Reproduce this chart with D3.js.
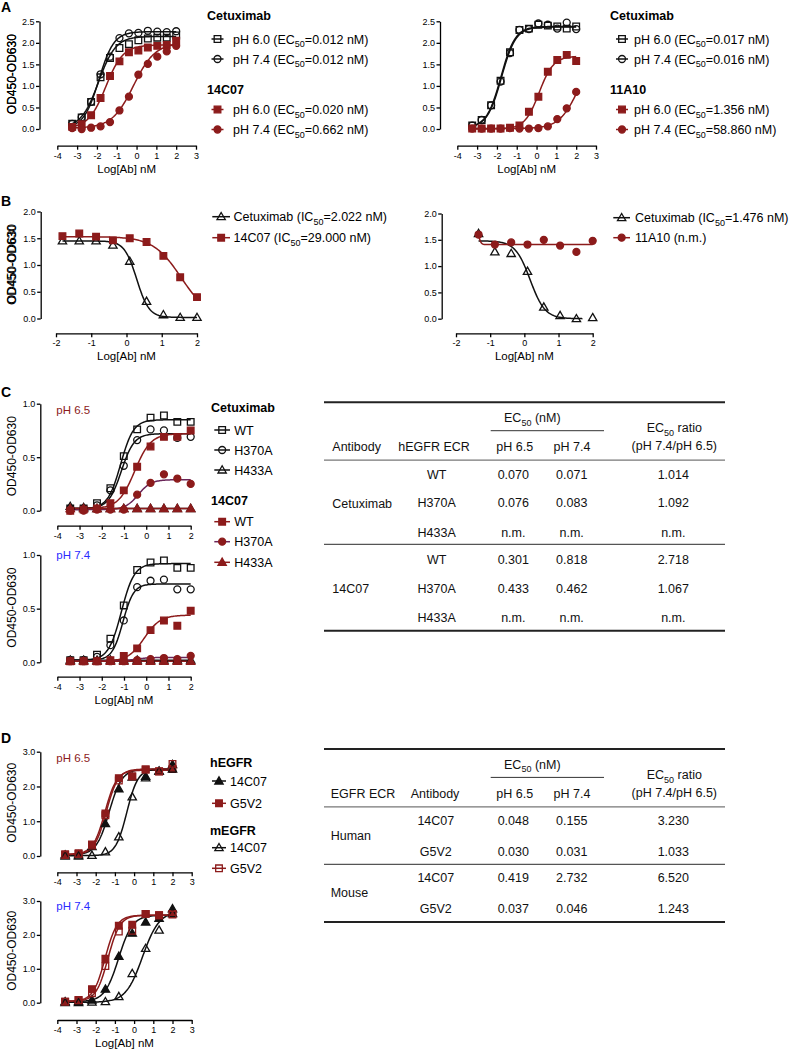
<!DOCTYPE html>
<html><head><meta charset="utf-8">
<script src="https://cdn.jsdelivr.net/npm/d3@7"></script>
<style>body{margin:0;background:#fff} svg{display:block}</style>
</head><body>
<script>
// ---------------- DATA ----------------
// Panel A (3-fold dilutions, log nM)
const doseA = [-3.248,-2.771,-2.294,-1.817,-1.340,-0.863,-0.385,0.092,0.569,1.046,1.523,2.000];
const A1_cet60 = [0.12,0.27,0.63,1.20,1.65,1.88,1.97,2.06,2.10,2.12,2.12,2.17];
const A1_cet74 = [0.12,0.27,0.63,1.27,1.68,2.11,2.22,2.23,2.28,2.26,2.25,2.27];
const A1_c14_60 = [0.05,0.11,0.32,0.72,1.23,1.57,1.78,1.82,1.89,1.93,1.95,2.05];
const A1_c14_74 = [0.02,0.00,0.03,0.06,0.16,0.43,0.75,1.26,1.51,1.68,1.80,1.93];
const A2_cet60 = [0.08,0.21,0.55,1.12,1.78,2.30,2.33,2.42,2.40,2.38,2.33,2.38];
const A2_cet74 = [0.08,0.21,0.55,1.10,1.76,2.30,2.32,2.45,2.42,2.33,2.47,2.32];
const A2_a11_60 = [0.01,0.01,0.01,0.01,0.03,0.08,0.40,0.75,1.33,1.60,1.72,1.58];
const A2_a11_74 = [0.01,0.01,0.01,0.01,0.02,0.01,0.01,0.02,0.06,0.23,0.48,0.86];
// fitted curves: [bottom, top, logEC50, hill]
const A1_fits = [[0.03,2.15,-1.92,1.0],[0.03,2.26,-1.90,1.15],[0.02,1.95,-1.55,1.0],[0.02,2.0,-0.15,0.8]];
const A2_fits = [[0.03,2.37,-1.77,1.2],[0.03,2.38,-1.80,1.2],[0.0,1.69,0.13,1.2],[0.01,1.8,2.1,0.9]];
const A1_groups = ['Cetuximab','14C07'];
const A1_legend = ['pH 6.0 (EC50=0.012 nM)','pH 7.4 (EC50=0.012 nM)','pH 6.0 (EC50=0.020 nM)','pH 7.4 (EC50=0.662 nM)'];
const A2_groups = ['Cetuximab','11A10'];
const A2_legend = ['pH 6.0 (EC50=0.017 nM)','pH 7.4 (EC50=0.016 nM)','pH 6.0 (EC50=1.356 nM)','pH 7.4 (EC50=58.860 nM)'];

// Panel B
const doseB1 = [-1.817,-1.340,-0.863,-0.385,0.092,0.569,1.046,1.523,2.000];
const B1_cet = [1.45,1.45,1.45,1.37,1.07,0.32,0.07,0.02,0.02];
const B1_c14 = [1.54,1.59,1.53,1.46,1.50,1.43,1.17,0.77,0.40];
const B1_fits = [[0.02,1.45,0.29,-2.5],[0.0,1.53,1.55,-1.1]];
const doseB2 = [-1.340,-0.863,-0.385,0.092,0.569,1.046,1.523,2.000];
const B2_cet = [1.62,1.27,1.24,0.90,0.22,0.06,0.00,0.02];
const B2_a11 = [1.60,1.41,1.45,1.41,1.50,1.39,1.27,1.48];
const B2_fits = [[0.0,1.48,0.17,-2.0],[1.41,1.62,-1.31,-15]];
const B1_legend = ['Cetuximab (IC50=2.022 nM)','14C07 (IC50=29.000 nM)'];
const B2_legend = ['Cetuximab (IC50=1.476 nM)','11A10 (n.m.)'];

// Panel C (4-fold dilutions)
const doseC = [-3.418,-2.816,-2.214,-1.612,-1.010,-0.408,0.194,0.796,1.398,2.000];
const C1_cetWT   = [0.02,0.02,0.07,0.21,0.51,0.76,0.87,0.89,0.83,0.83];
const C1_cetH370 = [0.02,0.02,0.05,0.19,0.42,0.66,0.76,0.75,0.68,0.69];
const C1_cetH433 = [0.04,0.03,0.02,0.02,0.02,0.02,0.02,0.02,0.02,0.02];
const C1_c14WT   = [0.00,0.01,0.02,0.07,0.19,0.41,0.60,0.69,0.69,0.75];
const C1_c14H370 = [0.00,0.00,0.01,0.01,0.01,0.15,0.26,0.34,0.30,0.25];
const C1_c14H433 = [0.02,0.02,0.02,0.02,0.02,0.02,0.02,0.02,0.02,0.02];
const C1_fits = [[0.02,0.85,-1.15,1.5],[0.02,0.72,-1.12,1.5],[0.02,0.02,0,1],[0.02,0.72,-0.52,1.2],[0.01,0.29,-0.36,1.5],[0.02,0.02,0,1]];
const C2_cetWT   = [0.02,0.02,0.07,0.22,0.53,0.86,0.93,0.95,0.88,0.88];
const C2_cetH370 = [0.02,0.02,0.05,0.16,0.39,0.70,0.76,0.77,0.68,0.68];
const C2_cetH433 = [0.02,0.02,0.02,0.02,0.02,0.02,0.02,0.02,0.02,0.02];
const C2_c14WT   = [0.01,0.01,0.01,0.02,0.06,0.13,0.30,0.39,0.34,0.48];
const C2_c14H370 = [0.01,0.01,0.01,0.01,0.01,0.02,0.03,0.04,0.03,0.06];
const C2_c14H433 = [0.01,0.01,0.01,0.01,0.01,0.01,0.01,0.01,0.01,0.01];
const C2_fits = [[0.02,0.92,-1.12,1.5],[0.02,0.73,-1.05,1.8],[0.02,0.02,0,1],[0.01,0.44,-0.09,1.2],[0.01,0.045,-0.5,1.5],[0.01,0.01,0,1]];
const C_groups = ['Cetuximab','14C07'];
const C_legend = ['WT','H370A','H433A','WT','H370A','H433A'];

// Panel D (5-fold dilutions)
const doseD = [-3.592,-2.893,-2.194,-1.495,-0.796,-0.097,0.602,1.301,2.000];
const D1_h14 = [0.03,0.03,0.27,0.93,1.93,2.27,2.29,2.44,2.63];
const D1_hG5 = [0.05,0.08,0.33,1.22,2.24,2.29,2.49,2.43,2.50];
const D1_m14 = [0.00,0.00,0.02,0.12,0.55,1.70,2.25,2.44,2.50];
const D1_mG5 = [0.03,0.06,0.30,1.17,2.17,2.29,2.49,2.44,2.65];
const D1_fits = [[0.03,2.5,-1.3,1.3],[0.05,2.47,-1.52,1.4],[0.01,2.5,-0.38,1.5],[0.04,2.5,-1.45,1.4]];
const D2_h14 = [0.03,0.03,0.08,0.40,1.37,2.05,2.38,2.49,2.77];
const D2_hG5 = [0.03,0.08,0.40,1.30,2.27,2.30,2.62,2.58,2.62];
const D2_m14 = [0.00,0.00,0.02,0.03,0.18,0.86,1.60,2.14,2.63];
const D2_mG5 = [0.03,0.07,0.28,1.08,2.10,2.12,2.62,2.58,2.60];
const D2_fits = [[0.03,2.58,-0.81,1.2],[0.04,2.58,-1.51,1.4],[0.01,2.7,0.44,1.0],[0.04,2.58,-1.36,1.4]];
const D_groups = ['hEGFR','mEGFR'];
const D_legend = ['14C07','G5V2','14C07','G5V2'];

// Axis ticks
const xTicksA = [-4,-3,-2,-1,0,1,2,3], xLabelsA = ['-4','-3','-2','-1','0','1','2','3'];
const yTicksA = [0,0.5,1,1.5,2,2.5],  yLabelsA = ['0.0','0.5','1.0','1.5','2.0','2.5'];
const xTicksB = [-2,-1,0,1,2],        xLabelsB = ['-2','-1','0','1','2'];
const yTicksB = [0,0.5,1,1.5,2],      yLabelsB = ['0.0','0.5','1.0','1.5','2.0'];
const xTicksC = [-4,-3,-2,-1,0,1,2],  xLabelsC = ['-4','-3','-2','-1','0','1','2'];
const yTicksC = [0,0.5,1],            yLabelsC = ['0.0','0.5','1.0'];
const yTicksD = [0,1,2,3],            yLabelsD = ['0.0','1.0','2.0','3.0'];

// Tables
const tC_head = ['Antibody','hEGFR ECR','pH 6.5','pH 7.4'];
const tC_groups = ['Cetuximab','14C07'];
const tC_ecr = ['WT','H370A','H433A','WT','H370A','H433A'];
const tC_pH65 = ['0.070','0.076','n.m.','0.301','0.433','n.m.'];
const tC_pH74 = ['0.071','0.083','n.m.','0.818','0.462','n.m.'];
const tC_ratio = ['1.014','1.092','n.m.','2.718','1.067','n.m.'];
const tD_head = ['EGFR ECR','Antibody','pH 6.5','pH 7.4'];
const tD_groups = ['Human','Mouse'];
const tD_ab = ['14C07','G5V2','14C07','G5V2'];
const tD_pH65 = ['0.048','0.030','0.419','0.037'];
const tD_pH74 = ['0.155','0.031','2.732','0.046'];
const tD_ratio = ['3.230','1.033','6.520','1.243'];

// ---------------- DRAWING ----------------
const FONT = '"Liberation Sans", Arial, Helvetica, sans-serif';
const BLACK = '#111', RED = '#8c1b1b', PURPLE = '#6a2558', BLUE = '#2b2bff';
const svg = d3.select('body').append('svg').attr('width',794).attr('height',1049)
  .attr('font-family',FONT);

function rich(sel, str, fs){
  const m = str.match(/^(.*?(?:EC|IC))50(.*)$/);
  if(!m){ sel.text(str); return; }
  sel.append('tspan').text(m[1]);
  sel.append('tspan').attr('dy',fs*0.3).attr('font-size',fs*0.72).text('50');
  sel.append('tspan').attr('dy',-fs*0.3).text(m[2]);
}
function marker(g, shape, filled, color, cx, cy){
  const type = shape==='square'?d3.symbolSquare:shape==='circle'?d3.symbolCircle:d3.symbolTriangle;
  const size = shape==='square'?44:shape==='circle'?38:30;
  g.append('path').attr('d', d3.symbol().type(type).size(size)())
    .attr('transform',`translate(${cx},${cy + (shape==='triangle'?0.6:0)})`)
    .attr('fill', filled?color:'none').attr('stroke',color).attr('stroke-width',1.3);
}
const S = (vals, fit, shape, filled, color, lineColor, range) => ({vals, fit, shape, filled, color, lineColor: lineColor||color, range});

function drawPlot(p){
  const g = svg.append('g');
  const x = d3.scaleLinear().domain(p.xDomain).range([p.xl,p.xr]);
  const y = d3.scaleLinear().domain(p.yDomain).range([p.yb,p.yt]);
  const ya = g.append('g').attr('transform',`translate(${p.ax},0)`)
    .call(d3.axisLeft(y).tickValues(p.yTicks).tickFormat((d,i)=>p.yLabels[i]).tickSize(3.5).tickSizeOuter(0).tickPadding(1.5));
  const xa = g.append('g').attr('transform',`translate(0,${p.xAxisY})`)
    .call(d3.axisBottom(x).tickValues(p.xTicks).tickFormat((d,i)=>p.xLabels[i]).tickSize(4).tickSizeOuter(0).tickPadding(2.5));
  [ya,xa].forEach(a=>{
    a.selectAll('path,line').attr('stroke','#000').attr('stroke-width',1.3);
    a.selectAll('text').attr('font-size',9).attr('fill','#000').attr('font-family',FONT);
  });
  g.append('text').attr('transform',`translate(12,${(p.yb+p.yt)/2 - 1}) rotate(-90)`)
    .attr('text-anchor','middle').attr('dy','0.35em').attr('font-size',12).attr('font-weight','normal').text('OD450-OD630');
  if(p.xTitle) g.append('text').attr('x',(p.xl+p.xr)/2).attr('y',p.xAxisY+27)
    .attr('text-anchor','middle').attr('font-size',11.5).text('Log[Ab] nM');
  if(p.label) g.append('text').attr('x',p.xl-1).attr('y',p.label.y).attr('font-size',11.5)
    .attr('fill',p.label.color).text(p.label.text);
  // fitted curves
  p.series.forEach(s=>{
    const [b,t,c,h] = s.fit;
    const r = s.range || p.range;
    const xs = d3.range(121).map(i=>r[0]+(r[1]-r[0])*i/120);
    const line = d3.line().x(v=>x(v)).y(v=>y(b+(t-b)/(1+Math.pow(10,(c-v)*h))));
    g.append('path').attr('d',line(xs)).attr('fill','none').attr('stroke',s.lineColor).attr('stroke-width',1.5);
  });
  // data points
  p.series.forEach(s=>{
    s.vals.forEach((v,i)=> marker(g, s.shape, s.filled, s.color, x(p.dose[i]), y(v)));
  });
}

function legendRow(x1,x2,tx,cy,s,label,fs){
  svg.append('line').attr('x1',x1).attr('x2',x2).attr('y1',cy).attr('y2',cy)
    .attr('stroke',s.lineColor).attr('stroke-width',1.5);
  marker(svg,s.shape,s.filled,s.color,(x1+x2)/2,cy);
  const t = svg.append('text').attr('x',tx).attr('y',cy).attr('dy','0.36em').attr('font-size',fs);
  rich(t,label,fs);
}
function heading(x,y,txt){
  svg.append('text').attr('x',x).attr('y',y).attr('font-size',12.5).attr('font-weight','bold').text(txt);
}
function panelLetter(y,txt){
  svg.append('text').attr('x',1).attr('y',y).attr('font-size',14).attr('font-weight','bold').text(txt);
}

// ----- Panel A -----
panelLetter(12,'A');
const A1s = [S(A1_cet60,A1_fits[0],'square',false,BLACK), S(A1_cet74,A1_fits[1],'circle',false,BLACK),
             S(A1_c14_60,A1_fits[2],'square',true,RED), S(A1_c14_74,A1_fits[3],'circle',true,RED)];
drawPlot({xl:57.3,xr:196,xDomain:[-4,3],ax:39.5,yb:129,yt:21.3,yDomain:[0,2.5],xAxisY:145.7,
  xTicks:xTicksA,xLabels:xLabelsA,yTicks:yTicksA,yLabels:yLabelsA,dose:doseA,range:[doseA[0],2],series:A1s,xTitle:true});
const A2s = [S(A2_cet60,A2_fits[0],'square',false,BLACK), S(A2_cet74,A2_fits[1],'circle',false,BLACK),
             S(A2_a11_60,A2_fits[2],'square',true,RED), S(A2_a11_74,A2_fits[3],'circle',true,RED)];
drawPlot({xl:457.3,xr:596,xDomain:[-4,3],ax:440,yb:129,yt:21.3,yDomain:[0,2.5],xAxisY:145.7,
  xTicks:xTicksA,xLabels:xLabelsA,yTicks:yTicksA,yLabels:yLabelsA,dose:doseA,range:[doseA[0],2],series:A2s,xTitle:true});
[[207,211.5,223.5,233,A1_groups,A1_legend,A1s],[610,616,628,634,A2_groups,A2_legend,A2s]].forEach(([hx,l1,l2,tx,grp,leg,ser])=>{
  heading(hx,20,grp[0]);
  legendRow(l1,l2,tx,39,ser[0],leg[0],12.5);
  legendRow(l1,l2,tx,59,ser[1],leg[1],12.5);
  heading(hx,94,grp[1]);
  legendRow(l1,l2,tx,109.5,ser[2],leg[2],12.5);
  legendRow(l1,l2,tx,129.5,ser[3],leg[3],12.5);
});

// ----- Panel B -----
panelLetter(206,'B');
const B1s = [S(B1_cet,B1_fits[0],'triangle',false,BLACK), S(B1_c14,B1_fits[1],'square',true,RED)];
drawPlot({xl:56,xr:197,xDomain:[-2,2],ax:40.7,yb:318.5,yt:211.5,yDomain:[0,2],xAxisY:333.3,
  xTicks:xTicksB,xLabels:xLabelsB,yTicks:yTicksB,yLabels:yLabelsB,dose:doseB1,range:[doseB1[0],2],series:B1s,xTitle:true});
const B2s = [S(B2_cet,B2_fits[0],'triangle',false,BLACK,null,[doseB2[0],1.7]), S(B2_a11,B2_fits[1],'circle',true,RED,null,[doseB2[0],2])];
drawPlot({xl:456,xr:592.7,xDomain:[-2,2],ax:441.7,yb:318.7,yt:213.5,yDomain:[0,2],xAxisY:333.3,
  xTicks:xTicksB,xLabels:xLabelsB,yTicks:yTicksB,yLabels:yLabelsB,dose:doseB2,range:[doseB2[0],2],series:B2s,xTitle:true});
legendRow(212.3,230,233.5,216.7,B1s[0],B1_legend[0],12.5);
legendRow(212.3,230,233.5,237.7,B1s[1],B1_legend[1],12.5);
legendRow(613.3,630,635,217.7,B2s[0],B2_legend[0],12.5);
legendRow(613.3,630,635,237.7,B2s[1],B2_legend[1],12.5);

// ----- Panel C -----
panelLetter(397,'C');
const C1s = [S(C1_cetWT,C1_fits[0],'square',false,BLACK), S(C1_cetH370,C1_fits[1],'circle',false,BLACK), S(C1_cetH433,C1_fits[2],'triangle',false,BLACK),
             S(C1_c14WT,C1_fits[3],'square',true,RED), S(C1_c14H370,C1_fits[4],'circle',true,RED,PURPLE), S(C1_c14H433,C1_fits[5],'triangle',true,RED)];
drawPlot({xl:57.3,xr:190.7,xDomain:[-4,2],ax:40.3,yb:510.7,yt:403.7,yDomain:[0,1],xAxisY:525.7,
  xTicks:xTicksC,xLabels:xLabelsC,yTicks:yTicksC,yLabels:yLabelsC,dose:doseC,range:[doseC[0],2],series:C1s,xTitle:false,
  label:{text:'pH 6.5',color:RED,y:414}});
const C2s = [S(C2_cetWT,C2_fits[0],'square',false,BLACK), S(C2_cetH370,C2_fits[1],'circle',false,BLACK), S(C2_cetH433,C2_fits[2],'triangle',false,BLACK),
             S(C2_c14WT,C2_fits[3],'square',true,RED), S(C2_c14H370,C2_fits[4],'circle',true,RED,PURPLE), S(C2_c14H433,C2_fits[5],'triangle',true,RED)];
drawPlot({xl:57.3,xr:190.7,xDomain:[-4,2],ax:40.3,yb:662.3,yt:555,yDomain:[0,1],xAxisY:676.7,
  xTicks:xTicksC,xLabels:xLabelsC,yTicks:yTicksC,yLabels:yLabelsC,dose:doseC,range:[doseC[0],2],series:C2s,xTitle:true,
  label:{text:'pH 7.4',color:BLUE,y:558.5}});
heading(211,412,C_groups[0]);
[430,450,470].forEach((cy,i)=>legendRow(214.3,230,234.3,cy,C1s[i],C_legend[i],12.5));
heading(211,505,C_groups[1]);
[521.7,541.7,562.3].forEach((cy,i)=>legendRow(214.3,230,234.3,cy,C1s[i+3],C_legend[i+3],12.5));

// ----- Panel D -----
panelLetter(743,'D');
const D1s = [S(D1_h14,D1_fits[0],'triangle',true,BLACK), S(D1_hG5,D1_fits[1],'square',true,RED),
             S(D1_m14,D1_fits[2],'triangle',false,BLACK), S(D1_mG5,D1_fits[3],'square',false,RED)];
drawPlot({xl:57.3,xr:191.7,xDomain:[-4,3],ax:40.3,yb:856,yt:751.7,yDomain:[0,3],xAxisY:872.3,
  xTicks:xTicksA,xLabels:xLabelsA,yTicks:yTicksD,yLabels:yLabelsD,dose:doseD,range:[doseD[0],2],series:D1s,xTitle:false,
  label:{text:'pH 6.5',color:RED,y:761.5}});
const D2s = [S(D2_h14,D2_fits[0],'triangle',true,BLACK), S(D2_hG5,D2_fits[1],'square',true,RED),
             S(D2_m14,D2_fits[2],'triangle',false,BLACK), S(D2_mG5,D2_fits[3],'square',false,RED)];
drawPlot({xl:57.3,xr:191.7,xDomain:[-4,3],ax:40.3,yb:1002.7,yt:901,yDomain:[0,3],xAxisY:1020,
  xTicks:xTicksA,xLabels:xLabelsA,yTicks:yTicksD,yLabels:yLabelsD,dose:doseD,range:[doseD[0],2],series:D2s,xTitle:true,
  label:{text:'pH 7.4',color:BLUE,y:909.5}});
heading(210,766.5,D_groups[0]);
legendRow(212,226,230,781,D1s[0],D_legend[0],12.5);
legendRow(212,226,230,803.3,D1s[1],D_legend[1],12.5);
heading(210,835,D_groups[1]);
legendRow(212,226,230,847.7,D1s[2],D_legend[2],12.5);
legendRow(212,226,230,868.3,D1s[3],D_legend[3],12.5);

// ----- Tables -----
const TFS = 12.5;
function tText(x,y,str,anchor){
  const t = svg.append('text').attr('x',x).attr('y',y).attr('font-size',TFS).attr('text-anchor',anchor||'middle').attr('fill','#111');
  rich(t,str,TFS); return t;
}
function hline(x1,x2,y,w,c){
  svg.append('line').attr('x1',x1).attr('x2',x2).attr('y1',y).attr('y2',y).attr('stroke',c).attr('stroke-width',w);
}
function drawTable(T){
  const L=324, R=725;
  hline(L,R,T.top,2,'#222');
  tText(532.3,T.top+19.5,'EC50 (nM)');
  hline(490.7,604,T.top+28.4,1,'#333');
  tText(674.3,T.top+30,'EC50 ratio');
  tText(674.3,T.top+48,'(pH 7.4/pH 6.5)');
  tText(T.c0x,T.top+48.5,T.head[0],'start');
  tText(T.c1x,T.top+48.5,T.head[1],'start');
  tText(514.7,T.top+48.5,T.head[2]);
  tText(572,T.top+48.5,T.head[3]);
  hline(L,R,T.top+57.8,1.2,'#777');
  T.rows.forEach((ry,i)=>{
    tText(T.c1c,ry,T.col1[i]);
    tText(513.3,ry,T.p65[i]);
    tText(571.7,ry,T.p74[i]);
    tText(673.3,ry,T.ratio[i]);
  });
  T.groupY.forEach((gy,i)=>tText(T.c0x,gy,T.groups[i],'start'));
  hline(L,R,T.sep,1.2,'#555');
  hline(L,R,T.bottom,2,'#222');
}
drawTable({top:402.3,head:tC_head,c0x:332.3,c1x:398.3,c1c:436.7,
  rows:[478.5,507.2,536.8,563.5,592.8,622.2],col1:tC_ecr,p65:tC_pH65,p74:tC_pH74,ratio:tC_ratio,
  groups:tC_groups,groupY:[507.5,592.8],sep:544.3,bottom:630.7});
drawTable({top:749,head:tD_head,c0x:330.7,c1x:410.7,c1c:435.8,
  rows:[824.5,855.5,882.2,913.2],col1:tD_ab,p65:tD_pH65,p74:tD_pH74,ratio:tD_ratio,
  groups:tD_groups,groupY:[839.5,897.2],sep:864.3,bottom:922});
</script></body></html>
